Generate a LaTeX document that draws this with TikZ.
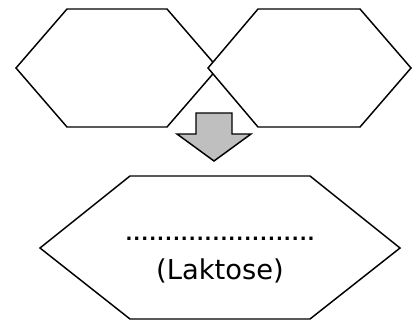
\documentclass[tikz,border=0pt]{standalone}
\usepackage{fontspec}
\setmainfont{DejaVu Sans}
\begin{document}
\begin{tikzpicture}[x=0.75pt,y=-0.75pt,
  hexa/.style={draw=black,fill=white,line width=1.1pt,line join=miter},
  arrowshape/.style={draw=black,fill=black!25,line width=1.1pt,line join=miter},
  label/.style={font=\fontsize{20.5}{24}\selectfont,inner sep=0pt}]
\useasboundingbox (0,0) rectangle (416,322);
% left hexagon
\draw[hexa] (16,68) -- (67,9) -- (167,9) -- (218,68) -- (167,127) -- (67,127) -- cycle;
% right hexagon
\draw[hexa] (208,68) -- (258,9) -- (360,9) -- (411,68) -- (360,127) -- (258,127) -- cycle;
% arrow
\draw[arrowshape] (196,113) -- (232,113) -- (232,134) -- (251,134) -- (214,161) -- (177,134) -- (196,134) -- cycle;
% bottom hexagon
\draw[hexa] (40,248) -- (130,176) -- (310,176) -- (400,248) -- (310,319) -- (130,319) -- cycle;
\node[inner sep=0pt,anchor=base] (blank) at (220,240) {\fontsize{13.5}{16}\selectfont\bfseries\makebox[145.5pt]{\dotfill}};
\node[label,anchor=base] (laktose) at (220,279) {(Laktose)};
\end{tikzpicture}
\end{document}
